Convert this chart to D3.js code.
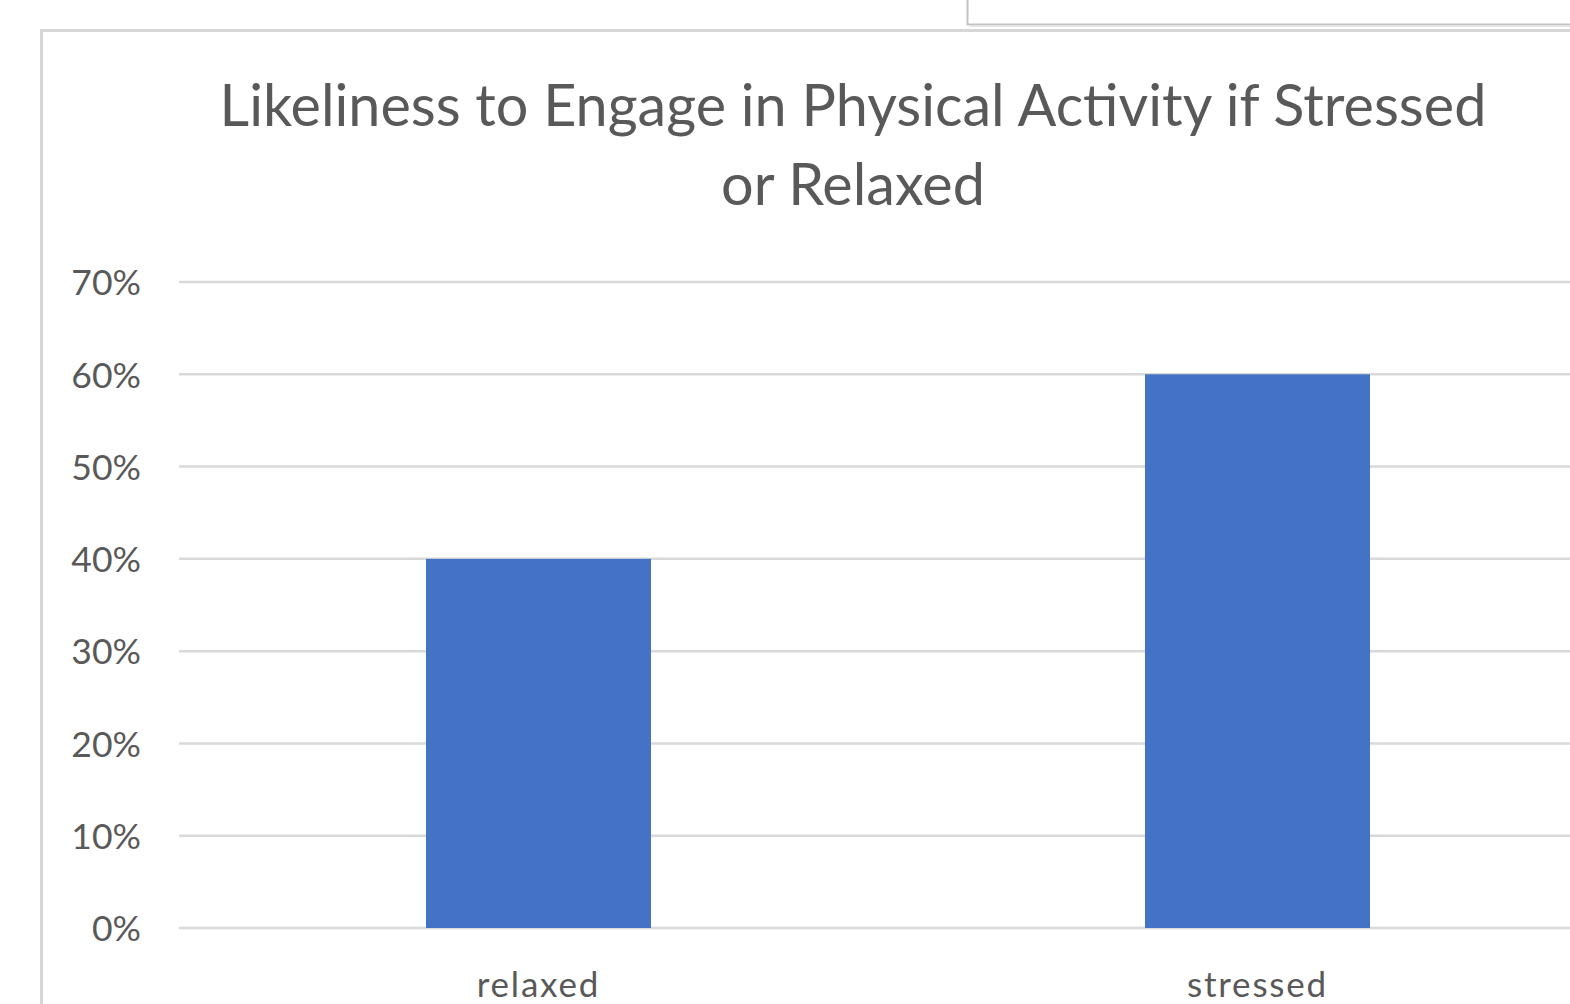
<!DOCTYPE html>
<html>
<head>
<meta charset="utf-8">
<script src="https://cdn.jsdelivr.net/npm/d3@7"></script>
<style>
  html, body { margin: 0; padding: 0; background: #fff; }
  svg { display: block; }
</style>
</head>
<body>
<svg id="chart" width="1570" height="1004"></svg>
<script>
// data
const categories = ["relaxed", "stressed"];
const values     = [0.40, 0.60];
const yTicks     = [0, 0.1, 0.2, 0.3, 0.4, 0.5, 0.6, 0.7];
const titleLines = ["Likeliness to Engage in Physical Activity if Stressed", "or Relaxed"];

const FONT  = "Lato, 'Open Sans', sans-serif";
const TEXT  = "#595959";
const GRID  = "#d9d9d9";
const BAR   = "#4472c4";

const svg = d3.select("#chart");

// fit a text node's font size so its width matches target
function fitWidth(sel, target) {
    sel.attr("font-size", 100);
    const w = sel.node().getComputedTextLength();
    sel.attr("font-size", 100 * target / w);
}

// outer frame (chart area border, runs off the screenshot)
svg.append("rect")
    .attr("x", 41.5).attr("y", 30.5).attr("width", 1600).attr("height", 1000)
    .attr("fill", "#fff").attr("stroke", "#d6d6d6").attr("stroke-width", 3);

// neighbouring box peeking in at the top right
svg.append("rect")
    .attr("x", 967.5).attr("y", -40).attr("width", 700).attr("height", 64.5)
    .attr("fill", "#fff").attr("stroke", "#c4c4c4").attr("stroke-width", 2);
svg.append("line")
    .attr("x1", 970).attr("x2", 1570).attr("y1", 26.5).attr("y2", 26.5)
    .attr("stroke", "#e6e6e6").attr("stroke-width", 1);

// scales
const x = d3.scaleBand().domain(categories)
    .range([179, 1617]).paddingInner(0.687).paddingOuter(0.3435);
const y = d3.scaleLinear().domain([0, 0.7]).range([928, 282]);

// gridlines
svg.append("g")
    .selectAll("line").data(yTicks).enter().append("line")
    .attr("x1", 179).attr("x2", 1617)
    .attr("y1", d => y(d)).attr("y2", d => y(d))
    .attr("stroke", GRID).attr("stroke-width", 2.5);

// bars
svg.append("g")
    .selectAll("rect").data(categories).enter().append("rect")
    .attr("x", d => x(d))
    .attr("y", (d, i) => y(values[i]))
    .attr("width", x.bandwidth())
    .attr("height", (d, i) => y(0) - y(values[i]))
    .attr("fill", BAR);

// y axis labels
const yAxis = svg.append("g").attr("transform", "translate(141,0)")
    .call(d3.axisLeft(y).tickValues(yTicks).tickSize(0).tickPadding(0).tickFormat(d3.format(".0%")));
yAxis.select(".domain").remove();
yAxis.selectAll("text")
    .attr("fill", TEXT).attr("font-family", FONT).attr("font-size", 35.5)
    .attr("dy", "0.36em");

// category labels
svg.append("g")
    .selectAll("text").data(categories).enter().append("text")
    .attr("x", d => x(d) + x.bandwidth() / 2)
    .attr("y", 997)
    .attr("text-anchor", "middle")
    .attr("fill", TEXT).attr("font-family", FONT).attr("font-size", 35)
    .attr("letter-spacing", 1.8)
    .text(d => d);

// title
const t1 = svg.append("text")
    .attr("x", 853).attr("y", 126).attr("text-anchor", "middle")
    .attr("fill", TEXT).attr("font-family", FONT)
    .text(titleLines[0]);
fitWidth(t1, 1267);
svg.append("text")
    .attr("x", 853).attr("y", 205).attr("text-anchor", "middle")
    .attr("fill", TEXT).attr("font-family", FONT)
    .attr("font-size", t1.attr("font-size"))
    .text(titleLines[1]);
</script>
</body>
</html>
